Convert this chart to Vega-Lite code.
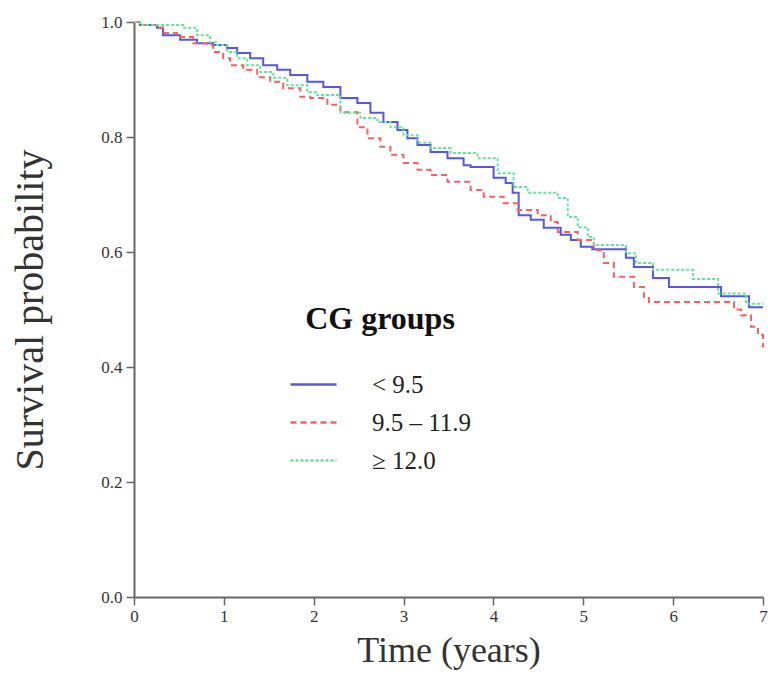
{
  "$schema": "https://vega.github.io/schema/vega-lite/v6.json",
  "width": 629,
  "height": 575,
  "autosize": {"type": "none"},
  "padding": {"left": 134, "top": 22, "right": 5, "bottom": 80},
  "background": "white",
  "config": {
    "view": {"stroke": null},
    "font": "Liberation Serif"
  },
  "data": {
    "values": [
      {"g": "< 9.5", "t": 0, "s": 1.0},
      {"g": "< 9.5", "t": 0.067, "s": 0.995},
      {"g": "< 9.5", "t": 0.256, "s": 0.99},
      {"g": "< 9.5", "t": 0.323, "s": 0.977},
      {"g": "< 9.5", "t": 0.513, "s": 0.969},
      {"g": "< 9.5", "t": 0.702, "s": 0.963},
      {"g": "< 9.5", "t": 0.881, "s": 0.96},
      {"g": "< 9.5", "t": 1.037, "s": 0.955},
      {"g": "< 9.5", "t": 1.148, "s": 0.946},
      {"g": "< 9.5", "t": 1.293, "s": 0.937},
      {"g": "< 9.5", "t": 1.438, "s": 0.925},
      {"g": "< 9.5", "t": 1.594, "s": 0.917},
      {"g": "< 9.5", "t": 1.739, "s": 0.908},
      {"g": "< 9.5", "t": 1.929, "s": 0.896},
      {"g": "< 9.5", "t": 2.107, "s": 0.887},
      {"g": "< 9.5", "t": 2.297, "s": 0.868},
      {"g": "< 9.5", "t": 2.486, "s": 0.859},
      {"g": "< 9.5", "t": 2.631, "s": 0.842},
      {"g": "< 9.5", "t": 2.776, "s": 0.826},
      {"g": "< 9.5", "t": 2.932, "s": 0.812},
      {"g": "< 9.5", "t": 3.043, "s": 0.798},
      {"g": "< 9.5", "t": 3.155, "s": 0.786},
      {"g": "< 9.5", "t": 3.3, "s": 0.774},
      {"g": "< 9.5", "t": 3.489, "s": 0.763},
      {"g": "< 9.5", "t": 3.668, "s": 0.751},
      {"g": "< 9.5", "t": 3.746, "s": 0.748},
      {"g": "< 9.5", "t": 4.002, "s": 0.729},
      {"g": "< 9.5", "t": 4.136, "s": 0.72},
      {"g": "< 9.5", "t": 4.214, "s": 0.703},
      {"g": "< 9.5", "t": 4.281, "s": 0.664},
      {"g": "< 9.5", "t": 4.415, "s": 0.656},
      {"g": "< 9.5", "t": 4.56, "s": 0.642},
      {"g": "< 9.5", "t": 4.749, "s": 0.63},
      {"g": "< 9.5", "t": 4.861, "s": 0.621},
      {"g": "< 9.5", "t": 4.972, "s": 0.609},
      {"g": "< 9.5", "t": 5.1, "s": 0.605},
      {"g": "< 9.5", "t": 5.474, "s": 0.59},
      {"g": "< 9.5", "t": 5.563, "s": 0.574},
      {"g": "< 9.5", "t": 5.775, "s": 0.555},
      {"g": "< 9.5", "t": 5.953, "s": 0.539},
      {"g": "< 9.5", "t": 6.533, "s": 0.523},
      {"g": "< 9.5", "t": 6.845, "s": 0.504},
      {"g": "< 9.5", "t": 7.0, "s": 0.504},

      {"g": "9.5 – 11.9", "t": 0, "s": 1.0},
      {"g": "9.5 – 11.9", "t": 0.067, "s": 0.995},
      {"g": "9.5 – 11.9", "t": 0.256, "s": 0.99},
      {"g": "9.5 – 11.9", "t": 0.323, "s": 0.981},
      {"g": "9.5 – 11.9", "t": 0.479, "s": 0.974},
      {"g": "9.5 – 11.9", "t": 0.658, "s": 0.963},
      {"g": "9.5 – 11.9", "t": 0.814, "s": 0.96},
      {"g": "9.5 – 11.9", "t": 0.881, "s": 0.948},
      {"g": "9.5 – 11.9", "t": 0.992, "s": 0.937},
      {"g": "9.5 – 11.9", "t": 1.07, "s": 0.925},
      {"g": "9.5 – 11.9", "t": 1.215, "s": 0.917},
      {"g": "9.5 – 11.9", "t": 1.371, "s": 0.904},
      {"g": "9.5 – 11.9", "t": 1.516, "s": 0.896},
      {"g": "9.5 – 11.9", "t": 1.661, "s": 0.885},
      {"g": "9.5 – 11.9", "t": 1.851, "s": 0.87},
      {"g": "9.5 – 11.9", "t": 1.962, "s": 0.868},
      {"g": "9.5 – 11.9", "t": 2.152, "s": 0.856},
      {"g": "9.5 – 11.9", "t": 2.297, "s": 0.843},
      {"g": "9.5 – 11.9", "t": 2.486, "s": 0.817},
      {"g": "9.5 – 11.9", "t": 2.598, "s": 0.798},
      {"g": "9.5 – 11.9", "t": 2.742, "s": 0.783},
      {"g": "9.5 – 11.9", "t": 2.854, "s": 0.769},
      {"g": "9.5 – 11.9", "t": 2.999, "s": 0.755},
      {"g": "9.5 – 11.9", "t": 3.155, "s": 0.743},
      {"g": "9.5 – 11.9", "t": 3.3, "s": 0.734},
      {"g": "9.5 – 11.9", "t": 3.489, "s": 0.722},
      {"g": "9.5 – 11.9", "t": 3.746, "s": 0.708},
      {"g": "9.5 – 11.9", "t": 3.891, "s": 0.696},
      {"g": "9.5 – 11.9", "t": 4.114, "s": 0.685},
      {"g": "9.5 – 11.9", "t": 4.27, "s": 0.673},
      {"g": "9.5 – 11.9", "t": 4.493, "s": 0.664},
      {"g": "9.5 – 11.9", "t": 4.638, "s": 0.652},
      {"g": "9.5 – 11.9", "t": 4.716, "s": 0.635},
      {"g": "9.5 – 11.9", "t": 4.939, "s": 0.621},
      {"g": "9.5 – 11.9", "t": 5.117, "s": 0.603},
      {"g": "9.5 – 11.9", "t": 5.229, "s": 0.581},
      {"g": "9.5 – 11.9", "t": 5.34, "s": 0.557},
      {"g": "9.5 – 11.9", "t": 5.563, "s": 0.539},
      {"g": "9.5 – 11.9", "t": 5.674, "s": 0.522},
      {"g": "9.5 – 11.9", "t": 5.73, "s": 0.513},
      {"g": "9.5 – 11.9", "t": 6.678, "s": 0.5},
      {"g": "9.5 – 11.9", "t": 6.756, "s": 0.49},
      {"g": "9.5 – 11.9", "t": 6.867, "s": 0.47},
      {"g": "9.5 – 11.9", "t": 6.945, "s": 0.456},
      {"g": "9.5 – 11.9", "t": 7.0, "s": 0.435},

      {"g": "≥ 12.0", "t": 0, "s": 1.0},
      {"g": "≥ 12.0", "t": 0.067, "s": 0.995},
      {"g": "≥ 12.0", "t": 0.546, "s": 0.99},
      {"g": "≥ 12.0", "t": 0.702, "s": 0.977},
      {"g": "≥ 12.0", "t": 0.847, "s": 0.965},
      {"g": "≥ 12.0", "t": 0.925, "s": 0.96},
      {"g": "≥ 12.0", "t": 1.037, "s": 0.948},
      {"g": "≥ 12.0", "t": 1.148, "s": 0.937},
      {"g": "≥ 12.0", "t": 1.26, "s": 0.925},
      {"g": "≥ 12.0", "t": 1.405, "s": 0.913},
      {"g": "≥ 12.0", "t": 1.55, "s": 0.903},
      {"g": "≥ 12.0", "t": 1.706, "s": 0.89},
      {"g": "≥ 12.0", "t": 1.929, "s": 0.878},
      {"g": "≥ 12.0", "t": 2.04, "s": 0.873},
      {"g": "≥ 12.0", "t": 2.297, "s": 0.842},
      {"g": "≥ 12.0", "t": 2.52, "s": 0.833},
      {"g": "≥ 12.0", "t": 2.709, "s": 0.826},
      {"g": "≥ 12.0", "t": 2.854, "s": 0.817},
      {"g": "≥ 12.0", "t": 2.999, "s": 0.803},
      {"g": "≥ 12.0", "t": 3.155, "s": 0.79},
      {"g": "≥ 12.0", "t": 3.3, "s": 0.781},
      {"g": "≥ 12.0", "t": 3.523, "s": 0.772},
      {"g": "≥ 12.0", "t": 3.824, "s": 0.763},
      {"g": "≥ 12.0", "t": 4.047, "s": 0.737},
      {"g": "≥ 12.0", "t": 4.225, "s": 0.713},
      {"g": "≥ 12.0", "t": 4.381, "s": 0.703},
      {"g": "≥ 12.0", "t": 4.716, "s": 0.694},
      {"g": "≥ 12.0", "t": 4.827, "s": 0.661},
      {"g": "≥ 12.0", "t": 4.939, "s": 0.643},
      {"g": "≥ 12.0", "t": 5.05, "s": 0.626},
      {"g": "≥ 12.0", "t": 5.117, "s": 0.612},
      {"g": "≥ 12.0", "t": 5.474, "s": 0.598},
      {"g": "≥ 12.0", "t": 5.585, "s": 0.581},
      {"g": "≥ 12.0", "t": 5.775, "s": 0.569},
      {"g": "≥ 12.0", "t": 6.221, "s": 0.553},
      {"g": "≥ 12.0", "t": 6.5, "s": 0.528},
      {"g": "≥ 12.0", "t": 6.81, "s": 0.51},
      {"g": "≥ 12.0", "t": 7.0, "s": 0.51}
    ]
  },
  "mark": {"type": "line", "interpolate": "step-after", "strokeWidth": 2},
  "encoding": {
    "x": {
      "field": "t", "type": "quantitative",
      "scale": {"domain": [0, 7], "nice": false, "zero": false},
      "axis": {
        "values": [0, 1, 2, 3, 4, 5, 6, 7], "format": "d", "grid": false,
        "title": "Time (years)", "titleFont": "Liberation Serif", "titleFontSize": 36,
        "titleFontWeight": "normal", "titleColor": "#333", "titlePadding": 9,
        "labelFont": "Liberation Serif", "labelFontSize": 17, "labelColor": "#333",
        "labelPadding": 3, "tickSize": 8, "tickColor": "#666", "tickWidth": 1.5,
        "domainColor": "#666", "domainWidth": 2, "labelFlush": false
      }
    },
    "y": {
      "field": "s", "type": "quantitative",
      "scale": {"domain": [0, 1], "nice": false},
      "axis": {
        "values": [0, 0.2, 0.4, 0.6, 0.8, 1.0], "format": ".1f", "grid": false,
        "title": "Survival probability", "titleFont": "Liberation Serif", "titleFontSize": 40,
        "titleFontWeight": "normal", "titleColor": "#333", "titlePadding": 50,
        "labelFont": "Liberation Serif", "labelFontSize": 17, "labelColor": "#333",
        "labelPadding": 4, "tickSize": 8, "tickColor": "#666", "tickWidth": 1.5,
        "domainColor": "#666", "domainWidth": 2, "labelFlush": false
      }
    },
    "color": {
      "field": "g", "type": "nominal",
      "scale": {"domain": ["< 9.5", "9.5 – 11.9", "≥ 12.0"], "range": ["#5656e0", "#f06464", "#66e39a"]},
      "legend": {
        "title": "CG groups", "orient": "none", "legendX": 155, "legendY": 282,
        "titleFont": "Liberation Serif", "titleFontSize": 32, "titleFontWeight": "bold",
        "titleColor": "#111", "titleAnchor": "middle", "titlePadding": 24,
        "labelFont": "Liberation Serif", "labelFontSize": 25, "labelColor": "#222",
        "labelOffset": 34, "symbolType": "stroke", "symbolSize": 2116, "symbolStrokeWidth": 2.5,
        "rowPadding": 0
      }
    },
    "strokeDash": {
      "field": "g", "type": "nominal",
      "scale": {"domain": ["< 9.5", "9.5 – 11.9", "≥ 12.0"], "range": [[1, 0], [6, 4], [3, 2]]},
      "legend": null
    }
  }
}
